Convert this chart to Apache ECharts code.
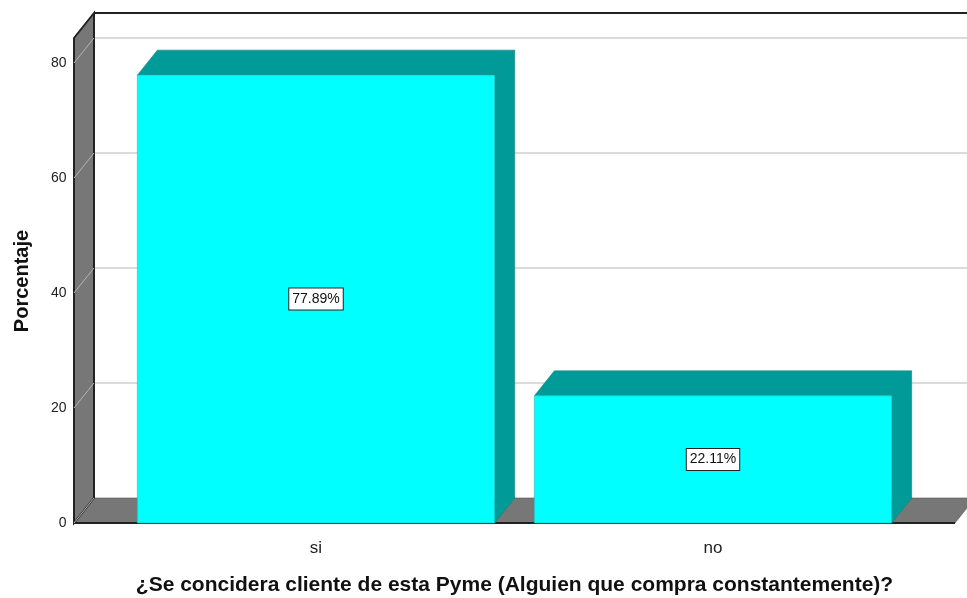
<!DOCTYPE html>
<html>
<head>
<meta charset="utf-8">
<script src="https://cdn.jsdelivr.net/npm/echarts@6/dist/echarts.min.js"></script>
<style>html,body{margin:0;padding:0;background:#fff;}#c{width:967px;height:598px;}</style>
</head>
<body>
<div id="c"></div>
<script>
var categories = ['si', 'no'];
var percentages = [77.89, 22.11];
var yTicks = [0, 20, 40, 60, 80];
var yTitle = 'Porcentaje';
var xTitle = '¿Se concidera cliente de esta Pyme (Alguien que compra constantemente)?';

var DX = 20, DY = -25;
var FRONT = '#00FFFF', SIDE = '#009B99', WALL = '#777777';
var FONT = '"Liberation Sans", Arial, sans-serif';

var chart = echarts.init(document.getElementById('c'), null, {renderer: 'canvas'});

function renderFrame(params, api) {
  var cs = params.coordSys;
  var left = cs.x - 43.5, right = cs.x + cs.width + 43.5;
  var y0 = api.coord([0, 0])[1];
  var yTop = api.coord([0, yTicks[yTicks.length - 1]])[1] + DY;
  var bx = left + DX;
  var children = [];
  children.push({type: 'line', shape: {x1: bx, y1: yTop + DY, x2: 1100, y2: yTop + DY},
    style: {stroke: '#222', lineWidth: 2}});
  yTicks.forEach(function (v) {
    var y = api.coord([0, v])[1];
    if (v !== 0) {
      children.push({type: 'line', shape: {x1: bx, y1: y + DY, x2: 1100, y2: y + DY},
        style: {stroke: '#cfcfcf', lineWidth: 1.5}});
    }
  });
  children.push({type: 'polygon', shape: {points: [[left, y0], [bx, y0 + DY], [right + DX, y0 + DY], [right, y0]]},
    style: {fill: WALL, stroke: '#555', lineWidth: 0.6}});
  children.push({type: 'line', shape: {x1: left, y1: y0, x2: right, y2: y0},
    style: {stroke: '#222', lineWidth: 2}});
  children.push({type: 'polygon', shape: {points: [[left, yTop], [bx, yTop + DY], [bx, y0 + DY], [left, y0]]},
    style: {fill: WALL, stroke: '#222', lineWidth: 2}});
  yTicks.forEach(function (v) {
    var y = api.coord([0, v])[1];
    children.push({type: 'line', shape: {x1: left, y1: y, x2: bx, y2: y + DY},
      style: {stroke: '#b4b4b4', lineWidth: 1}});
  });
  return {type: 'group', children: children};
}

function renderBar(params, api) {
  var idx = api.value(0);
  var val = api.value(1);
  var top = api.coord([idx, val]);
  var base = api.coord([idx, 0]);
  var w = api.size([1, 0])[0] * 0.9;
  var x1 = top[0] - w / 2, x2 = top[0] + w / 2;
  var yt = top[1], yb = base[1];
  return {type: 'group', children: [
    {type: 'polygon', shape: {points: [[x1, yt], [x1 + DX, yt + DY], [x2 + DX, yt + DY], [x2, yt]]},
      style: {fill: SIDE, stroke: '#0a8583', lineWidth: 0.6}},
    {type: 'polygon', shape: {points: [[x2, yt], [x2 + DX, yt + DY], [x2 + DX, yb + DY], [x2, yb]]},
      style: {fill: SIDE, stroke: '#0a8583', lineWidth: 0.6}},
    {type: 'rect', shape: {x: x1, y: yt, width: w, height: yb - yt},
      style: {fill: FRONT, stroke: '#2bb5b5', lineWidth: 0.6}},
    {type: 'text', x: top[0], y: (yt + yb) / 2,
      style: {text: val.toFixed(2) + '%', align: 'center', verticalAlign: 'middle',
        font: '14px ' + FONT, fill: '#111',
        backgroundColor: '#fff', borderColor: '#222', borderWidth: 1, padding: [4, 3, 3, 3]}}
  ]};
}

chart.setOption({
  animation: false,
  grid: {left: 117.5, right: 55.5, top: 63, bottom: 75, containLabel: false, outerBoundsMode: 'none'},
  xAxis: {
    type: 'category', data: categories,
    axisLine: {show: false}, axisTick: {show: false},
    axisLabel: {margin: 17, fontSize: 17, color: '#222', fontFamily: FONT},
    name: xTitle, nameLocation: 'middle', nameGap: 52,
    nameTextStyle: {fontSize: 21, fontWeight: 'bold', color: '#111', fontFamily: FONT}
  },
  yAxis: {
    type: 'value', min: 0, max: 80, interval: 20,
    axisLine: {show: false}, axisTick: {show: false}, splitLine: {show: false},
    axisLabel: {margin: 51, fontSize: 14, color: '#222', fontFamily: FONT}
  },
  graphic: [{
    type: 'text', x: 22, y: 281, rotation: Math.PI / 2,
    style: {text: yTitle, font: 'bold 20px ' + FONT, fill: '#111', align: 'center', verticalAlign: 'middle'}
  }],
  series: [
    {type: 'custom', renderItem: renderFrame, data: [[0, 0]], silent: true, z: 1, clip: false},
    {type: 'custom', renderItem: renderBar, z: 2, clip: false,
      encode: {x: 0, y: 1},
      data: percentages.map(function (v, i) { return [i, v]; })}
  ]
});
</script>
</body>
</html>
